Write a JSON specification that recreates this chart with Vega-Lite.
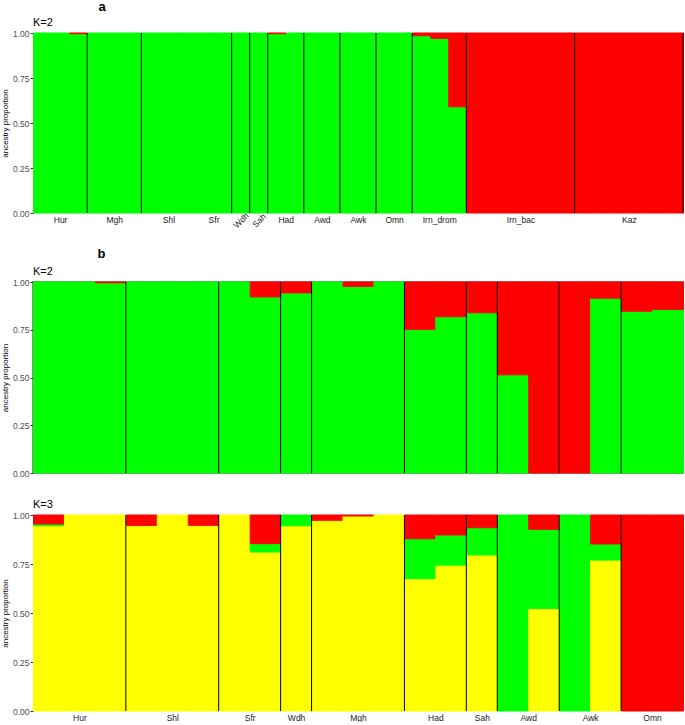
{
  "$schema": "https://vega.github.io/schema/vega-lite/v6.json",
  "padding": {"left": 0, "top": 1, "right": 2, "bottom": 0},
  "config": {
    "font": "Liberation Sans",
    "view": {"stroke": null},
    "title": {"color": "#000000", "fontWeight": "normal"}
  },
  "datasets": {
    "pa": [
      {"pop":"Hur","i":0,"k":"K1","v":1},{"pop":"Hur","i":1,"k":"K1","v":1},{"pop":"Hur","i":2,"k":"K1","v":0.996},{"pop":"Hur","i":2,"k":"K2","v":0.004},
      {"pop":"Mgh","i":3,"k":"K1","v":1},{"pop":"Mgh","i":4,"k":"K1","v":1},{"pop":"Mgh","i":5,"k":"K1","v":1},
      {"pop":"Shl","i":6,"k":"K1","v":1},{"pop":"Shl","i":7,"k":"K1","v":1},{"pop":"Shl","i":8,"k":"K1","v":1},
      {"pop":"Sfr","i":9,"k":"K1","v":1},{"pop":"Sfr","i":10,"k":"K1","v":1},
      {"pop":"Wdh","i":11,"k":"K1","v":1},
      {"pop":"Sah","i":12,"k":"K1","v":1},
      {"pop":"Had","i":13,"k":"K1","v":0.996},{"pop":"Had","i":13,"k":"K2","v":0.004},{"pop":"Had","i":14,"k":"K1","v":1},
      {"pop":"Awd","i":15,"k":"K1","v":1},{"pop":"Awd","i":16,"k":"K1","v":1},
      {"pop":"Awk","i":17,"k":"K1","v":1},{"pop":"Awk","i":18,"k":"K1","v":1},
      {"pop":"Omn","i":19,"k":"K1","v":1},{"pop":"Omn","i":20,"k":"K1","v":1},
      {"pop":"Irn_drom","i":21,"k":"K1","v":0.985},{"pop":"Irn_drom","i":21,"k":"K2","v":0.015},
      {"pop":"Irn_drom","i":22,"k":"K1","v":0.97},{"pop":"Irn_drom","i":22,"k":"K2","v":0.03},
      {"pop":"Irn_drom","i":23,"k":"K1","v":0.59},{"pop":"Irn_drom","i":23,"k":"K2","v":0.41},
      {"pop":"Irn_bac","i":24,"k":"K2","v":1},{"pop":"Irn_bac","i":25,"k":"K2","v":1},{"pop":"Irn_bac","i":26,"k":"K2","v":1},
      {"pop":"Irn_bac","i":27,"k":"K2","v":1},{"pop":"Irn_bac","i":28,"k":"K2","v":1},{"pop":"Irn_bac","i":29,"k":"K2","v":1},
      {"pop":"Kaz","i":30,"k":"K2","v":1},{"pop":"Kaz","i":31,"k":"K2","v":1},{"pop":"Kaz","i":32,"k":"K2","v":1},
      {"pop":"Kaz","i":33,"k":"K2","v":1},{"pop":"Kaz","i":34,"k":"K2","v":1},{"pop":"Kaz","i":35,"k":"K2","v":1}
    ],
    "pb2": [
      {"pop":"Hur","i":0,"k":"K1","v":1},{"pop":"Hur","i":1,"k":"K1","v":1},{"pop":"Hur","i":2,"k":"K1","v":0.996},{"pop":"Hur","i":2,"k":"K2","v":0.004},
      {"pop":"Shl","i":3,"k":"K1","v":1},{"pop":"Shl","i":4,"k":"K1","v":1},{"pop":"Shl","i":5,"k":"K1","v":1},
      {"pop":"Sfr","i":6,"k":"K1","v":1},{"pop":"Sfr","i":7,"k":"K1","v":0.922},{"pop":"Sfr","i":7,"k":"K2","v":0.078},
      {"pop":"Wdh","i":8,"k":"K1","v":0.943},{"pop":"Wdh","i":8,"k":"K2","v":0.057},
      {"pop":"Mgh","i":9,"k":"K1","v":1},{"pop":"Mgh","i":10,"k":"K1","v":0.977},{"pop":"Mgh","i":10,"k":"K2","v":0.023},{"pop":"Mgh","i":11,"k":"K1","v":1},
      {"pop":"Had","i":12,"k":"K1","v":0.752},{"pop":"Had","i":12,"k":"K2","v":0.248},
      {"pop":"Had","i":13,"k":"K1","v":0.818},{"pop":"Had","i":13,"k":"K2","v":0.182},
      {"pop":"Sah","i":14,"k":"K1","v":0.839},{"pop":"Sah","i":14,"k":"K2","v":0.161},
      {"pop":"Awd","i":15,"k":"K1","v":0.514},{"pop":"Awd","i":15,"k":"K2","v":0.486},
      {"pop":"Awd","i":16,"k":"K2","v":1},
      {"pop":"Awk","i":17,"k":"K2","v":1},
      {"pop":"Awk","i":18,"k":"K1","v":0.915},{"pop":"Awk","i":18,"k":"K2","v":0.085},
      {"pop":"Omn","i":19,"k":"K1","v":0.847},{"pop":"Omn","i":19,"k":"K2","v":0.153},
      {"pop":"Omn","i":20,"k":"K1","v":0.856},{"pop":"Omn","i":20,"k":"K2","v":0.144}
    ],
    "pb3": [
      {"pop":"Hur","i":0,"k":"K1","v":0.945},{"pop":"Hur","i":0,"k":"K2","v":0.009},{"pop":"Hur","i":0,"k":"K3","v":0.046},
      {"pop":"Hur","i":1,"k":"K1","v":1},{"pop":"Hur","i":2,"k":"K1","v":1},
      {"pop":"Shl","i":3,"k":"K1","v":0.947},{"pop":"Shl","i":3,"k":"K3","v":0.053},
      {"pop":"Shl","i":4,"k":"K1","v":1},
      {"pop":"Shl","i":5,"k":"K1","v":0.947},{"pop":"Shl","i":5,"k":"K3","v":0.053},
      {"pop":"Sfr","i":6,"k":"K1","v":1},
      {"pop":"Sfr","i":7,"k":"K1","v":0.811},{"pop":"Sfr","i":7,"k":"K2","v":0.043},{"pop":"Sfr","i":7,"k":"K3","v":0.146},
      {"pop":"Wdh","i":8,"k":"K1","v":0.945},{"pop":"Wdh","i":8,"k":"K2","v":0.055},
      {"pop":"Mgh","i":9,"k":"K1","v":0.973},{"pop":"Mgh","i":9,"k":"K3","v":0.027},
      {"pop":"Mgh","i":10,"k":"K1","v":0.995},{"pop":"Mgh","i":10,"k":"K3","v":0.005},
      {"pop":"Mgh","i":11,"k":"K1","v":1},
      {"pop":"Had","i":12,"k":"K1","v":0.675},{"pop":"Had","i":12,"k":"K2","v":0.204},{"pop":"Had","i":12,"k":"K3","v":0.121},
      {"pop":"Had","i":13,"k":"K1","v":0.744},{"pop":"Had","i":13,"k":"K2","v":0.154},{"pop":"Had","i":13,"k":"K3","v":0.102},
      {"pop":"Sah","i":14,"k":"K1","v":0.796},{"pop":"Sah","i":14,"k":"K2","v":0.139},{"pop":"Sah","i":14,"k":"K3","v":0.065},
      {"pop":"Awd","i":15,"k":"K2","v":1},
      {"pop":"Awd","i":16,"k":"K1","v":0.523},{"pop":"Awd","i":16,"k":"K2","v":0.404},{"pop":"Awd","i":16,"k":"K3","v":0.073},
      {"pop":"Awk","i":17,"k":"K2","v":1},
      {"pop":"Awk","i":18,"k":"K1","v":0.77},{"pop":"Awk","i":18,"k":"K2","v":0.082},{"pop":"Awk","i":18,"k":"K3","v":0.148},
      {"pop":"Omn","i":19,"k":"K3","v":1},
      {"pop":"Omn","i":20,"k":"K3","v":1}
    ],
    "sa": [{"b":3},{"b":6},{"b":11},{"b":12},{"b":13},{"b":15},{"b":17},{"b":19},{"b":21},{"b":24},{"b":30},{"b":36}],
    "sb": [{"b":3},{"b":6},{"b":8},{"b":9},{"b":12},{"b":14},{"b":15},{"b":17},{"b":19}]
  },
  "resolve": {"scale": {"color": "independent", "stroke": "independent", "x": "independent", "y": "independent"}},
  "spacing": 18,
  "vconcat": [
    {
      "title": {"text": "a", "anchor": "start", "dx": 97, "fontSize": 13, "fontWeight": "bold", "offset": 3},
      "resolve": {"scale": {"color": "independent", "stroke": "independent", "x": "independent", "y": "independent"}},
      "vconcat": [
        {
          "width": 650,
          "height": 180,
          "title": {"text": "K=2", "anchor": "start", "frame": "group", "fontSize": 11, "offset": 1},
          "layer": [
            {
              "data": {"name": "pa"},
              "mark": {"type": "bar", "binSpacing": 0, "strokeWidth": 1},
              "encoding": {
                "x": {"field": "i", "type": "quantitative", "bin": {"step": 1, "extent": [0, 36]},
                  "scale": {"domain": [0, 36], "nice": false, "zero": false},
                  "axis": {
                    "title": null, "values": [1.5, 4.5, 7.5, 10, 11.5, 12.5, 14, 16, 18, 20, 22.5, 27, 33],
                    "labelExpr": "['Hur','Mgh','Shl','Sfr','Wdh','Sah','Had','Awd','Awk','Omn','Irn_drom','Irn_bac','Kaz'][indexof([1.5,4.5,7.5,10,11.5,12.5,14,16,18,20,22.5,27,33], datum.value)]",
                    "ticks": false, "domain": false, "grid": false, "labelFontSize": 8.5, "labelColor": "#1a1a1a",
                    "labelOverlap": false, "labelFlush": false, "labelBound": false,
                    "labelAngle": {"expr": "datum.value == 11.5 || datum.value == 12.5 ? -45 : 0"},
                    "labelAlign": "center",
                    "labelBaseline": {"expr": "datum.value == 11.5 || datum.value == 12.5 ? 'middle' : 'top'"},
                    "labelPadding": {"expr": "datum.value == 11.5 || datum.value == 12.5 ? 7 : 2"}
                  }
                },
                "y": {"field": "v", "type": "quantitative", "stack": "zero",
                  "scale": {"domain": [0, 1], "nice": false},
                  "axis": {"values": [0, 0.25, 0.5, 0.75, 1], "format": ".2f", "title": "ancestry proportion", "titleFontSize": 8, "titleFontWeight": "normal", "titleColor": "#000000", "titlePadding": 3, "labelFontSize": 8.5, "labelColor": "#4d4d4d", "tickColor": "#333333", "tickSize": 3, "labelPadding": 1, "domain": false, "grid": false}
                },
                "color": {"field": "k", "type": "nominal", "legend": null, "scale": {"domain": ["K1", "K2"], "range": ["#00ff00", "#ff0000"]}},
                "stroke": {"field": "k", "type": "nominal", "legend": null, "scale": {"domain": ["K1", "K2"], "range": ["#00ff00", "#ff0000"]}},
                "order": {"field": "k"}
              }
            },
            {
              "data": {"name": "sa"},
              "mark": {"type": "rule", "color": "#000000", "strokeWidth": 1},
              "encoding": {"x": {"field": "b", "type": "quantitative"}}
            }
          ]
        }
      ]
    },
    {
      "title": {"text": "b", "anchor": "start", "dx": 97, "fontSize": 13, "fontWeight": "bold", "offset": 4},
      "resolve": {"scale": {"color": "independent", "stroke": "independent", "x": "independent", "y": "independent"}},
      "spacing": 20,
      "vconcat": [
        {
          "width": 650,
          "height": 191,
          "view": {"stroke": "#8c8c8c", "strokeWidth": 2},
          "title": {"text": "K=2", "anchor": "start", "frame": "group", "fontSize": 11, "offset": 1},
          "layer": [
            {
              "data": {"name": "pb2"},
              "mark": {"type": "bar", "binSpacing": 0, "strokeWidth": 1},
              "encoding": {
                "x": {"field": "i", "type": "quantitative", "bin": {"step": 1, "extent": [0, 21]},
                  "scale": {"domain": [0, 21], "nice": false, "zero": false}, "axis": null},
                "y": {"field": "v", "type": "quantitative", "stack": "zero",
                  "scale": {"domain": [0, 1], "nice": false},
                  "axis": {"values": [0, 0.25, 0.5, 0.75, 1], "format": ".2f", "title": "ancestry proportion", "titleFontSize": 8, "titleFontWeight": "normal", "titleColor": "#000000", "titlePadding": 3, "labelFontSize": 8.5, "labelColor": "#4d4d4d", "tickColor": "#333333", "tickSize": 3, "labelPadding": 1, "domain": false, "grid": false}
                },
                "color": {"field": "k", "type": "nominal", "legend": null, "scale": {"domain": ["K1", "K2"], "range": ["#00ff00", "#ff0000"]}},
                "stroke": {"field": "k", "type": "nominal", "legend": null, "scale": {"domain": ["K1", "K2"], "range": ["#00ff00", "#ff0000"]}},
                "order": {"field": "k"}
              }
            },
            {
              "data": {"name": "sb"},
              "mark": {"type": "rule", "color": "#000000", "strokeWidth": 1},
              "encoding": {"x": {"field": "b", "type": "quantitative"}}
            }
          ]
        },
        {
          "width": 650,
          "height": 196,
          "title": {"text": "K=3", "anchor": "start", "frame": "group", "fontSize": 11, "offset": 1},
          "layer": [
            {
              "data": {"name": "pb3"},
              "mark": {"type": "bar", "binSpacing": 0, "strokeWidth": 1},
              "encoding": {
                "x": {"field": "i", "type": "quantitative", "bin": {"step": 1, "extent": [0, 21]},
                  "scale": {"domain": [0, 21], "nice": false, "zero": false},
                  "axis": {
                    "title": null, "values": [1.5, 4.5, 7, 8.5, 10.5, 13, 14.5, 16, 18, 20],
                    "labelExpr": "['Hur','Shl','Sfr','Wdh','Mgh','Had','Sah','Awd','Awk','Omn'][indexof([1.5,4.5,7,8.5,10.5,13,14.5,16,18,20], datum.value)]",
                    "ticks": false, "domain": false, "grid": false, "labelPadding": 2, "labelFontSize": 8.5, "labelColor": "#1a1a1a",
                    "labelAngle": 0, "labelOverlap": false, "labelFlush": false, "labelBound": false
                  }
                },
                "y": {"field": "v", "type": "quantitative", "stack": "zero",
                  "scale": {"domain": [0, 1], "nice": false},
                  "axis": {"values": [0, 0.25, 0.5, 0.75, 1], "format": ".2f", "title": "ancestry proportion", "titleFontSize": 8, "titleFontWeight": "normal", "titleColor": "#000000", "titlePadding": 3, "labelFontSize": 8.5, "labelColor": "#4d4d4d", "tickColor": "#333333", "tickSize": 3, "labelPadding": 1, "domain": false, "grid": false}
                },
                "color": {"field": "k", "type": "nominal", "legend": null, "scale": {"domain": ["K1", "K2", "K3"], "range": ["#ffff00", "#00ff00", "#ff0000"]}},
                "stroke": {"field": "k", "type": "nominal", "legend": null, "scale": {"domain": ["K1", "K2", "K3"], "range": ["#ffff00", "#00ff00", "#ff0000"]}},
                "order": {"field": "k"}
              }
            },
            {
              "data": {"name": "sb"},
              "mark": {"type": "rule", "color": "#000000", "strokeWidth": 1},
              "encoding": {"x": {"field": "b", "type": "quantitative"}}
            }
          ]
        }
      ]
    }
  ]
}
